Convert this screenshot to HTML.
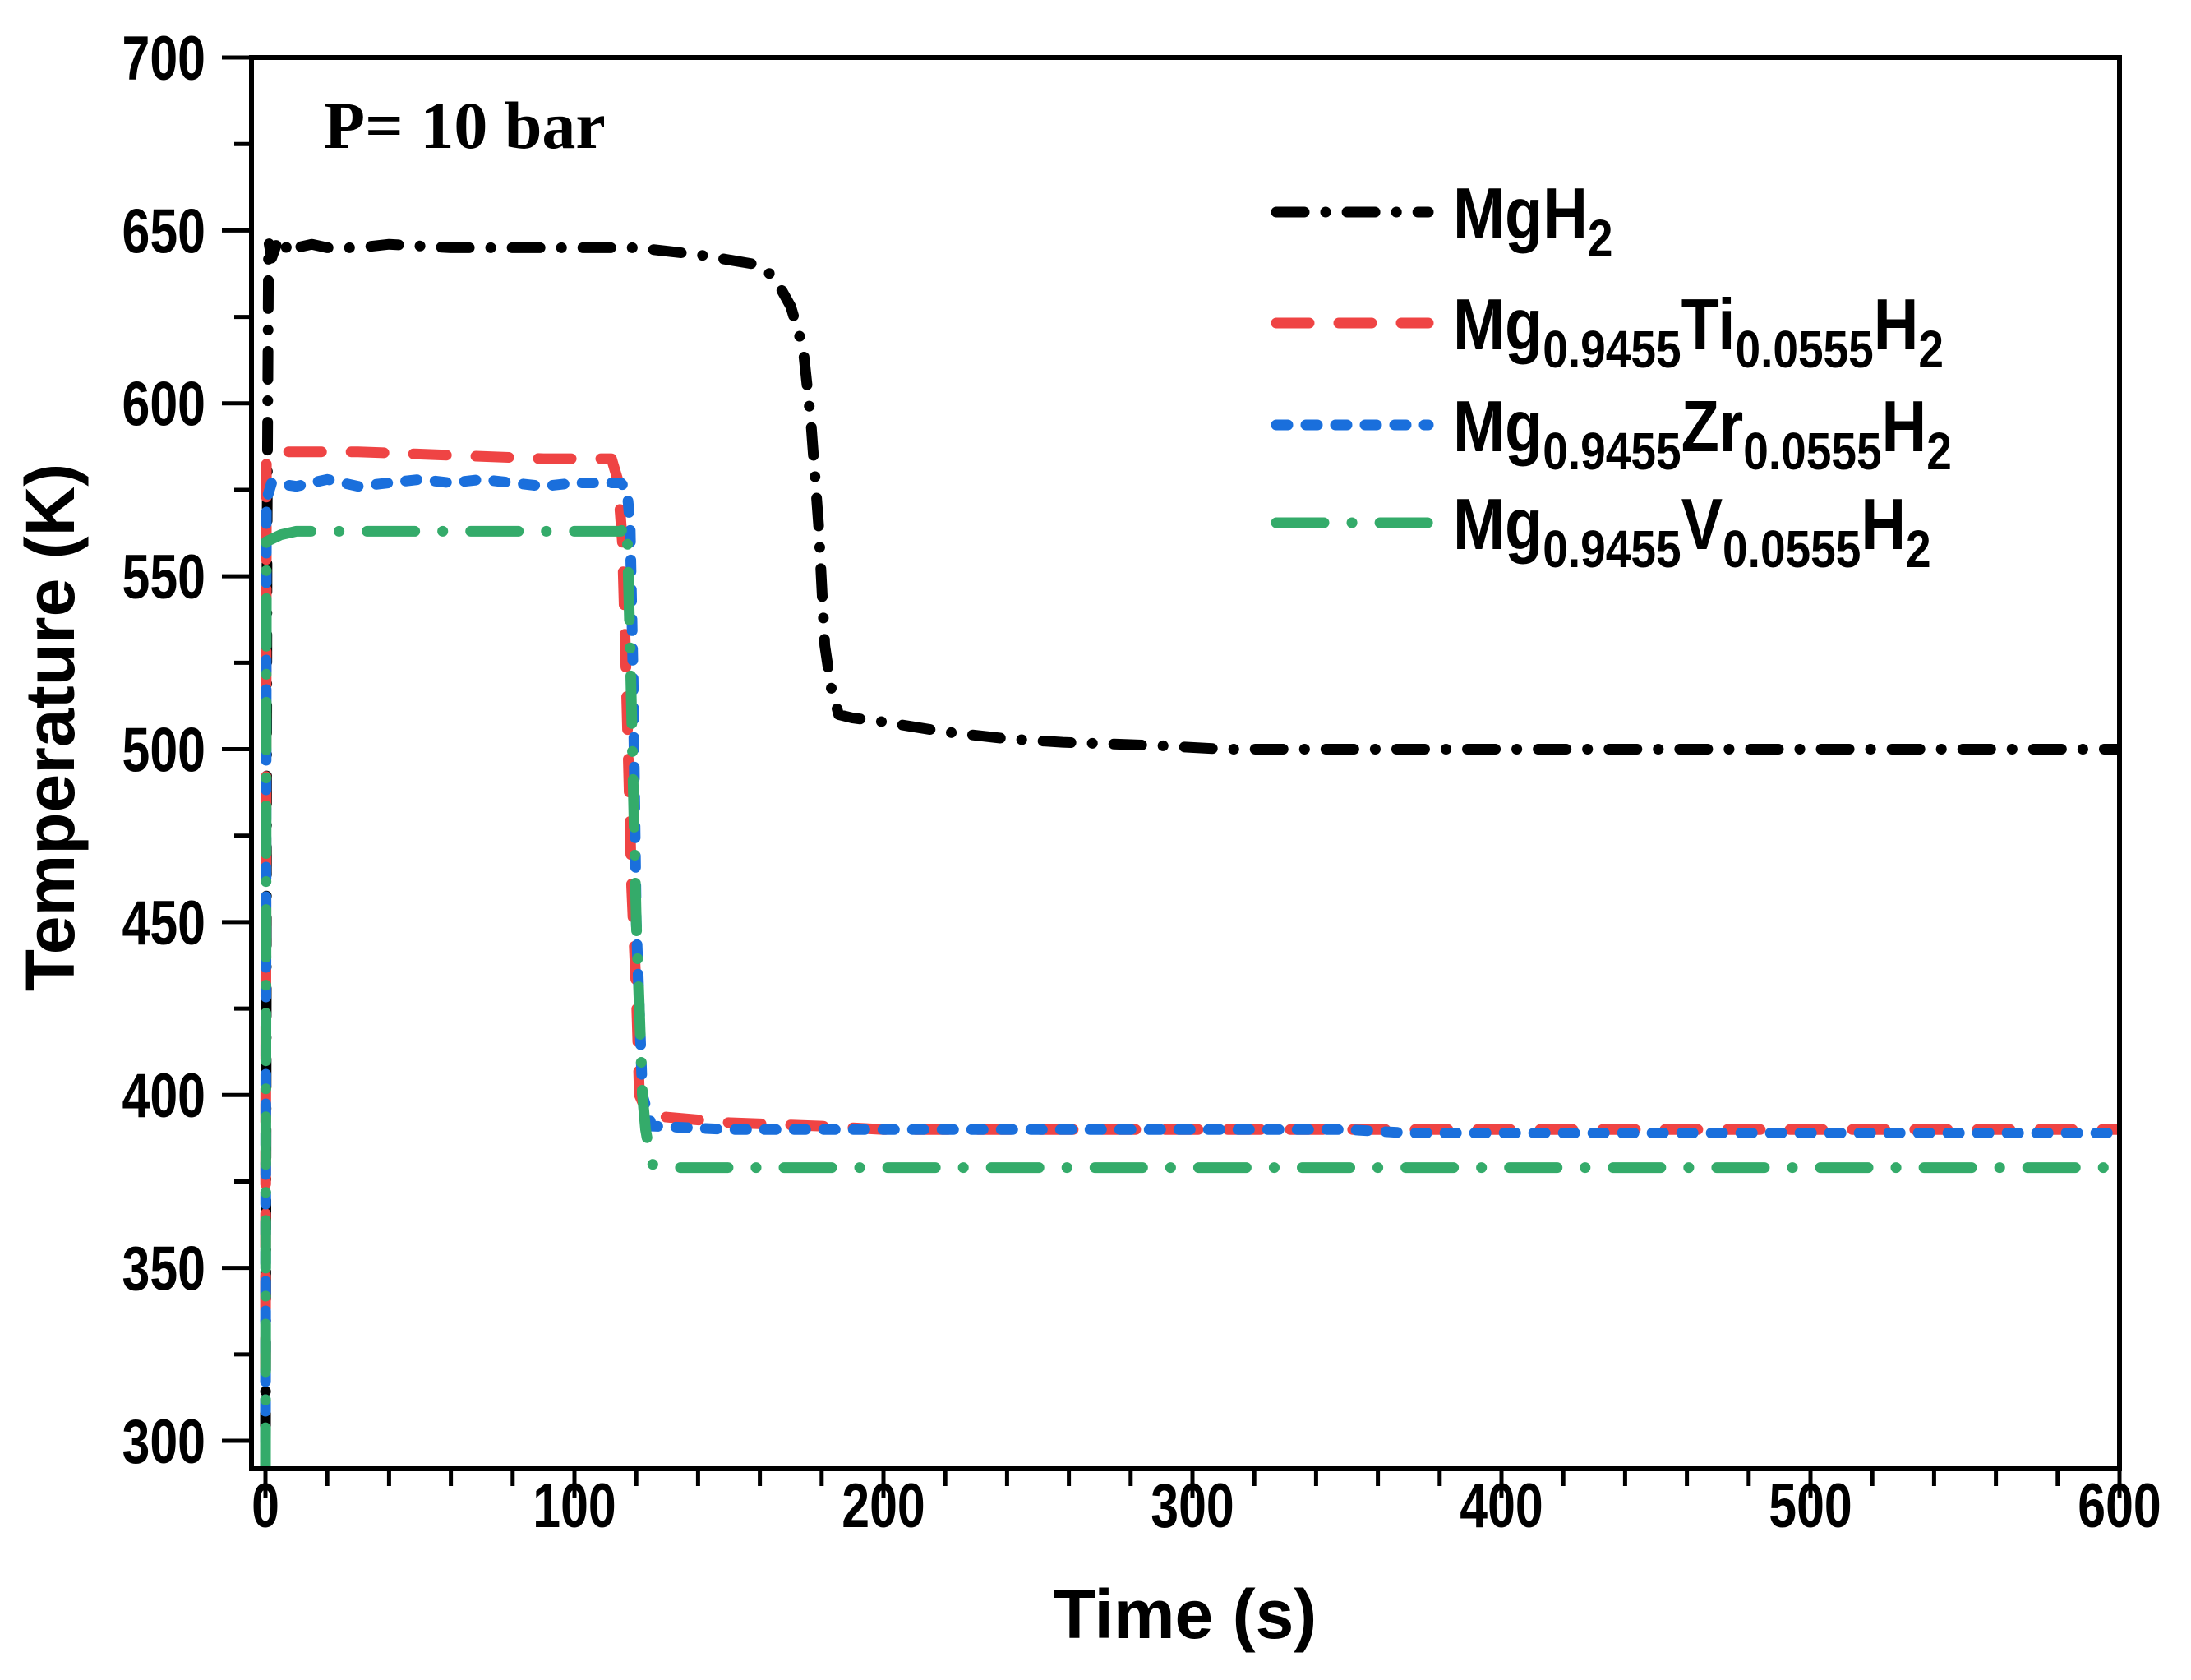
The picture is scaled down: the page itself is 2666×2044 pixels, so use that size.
<!DOCTYPE html>
<html><head><meta charset="utf-8">
<style>
html,body{margin:0;padding:0;background:#fff;}
svg{display:block;}
text{font-family:"Liberation Sans",Arial,sans-serif;font-weight:bold;fill:#000;}
</style></head>
<body>
<svg id="chart" width="2666" height="2044" viewBox="0 0 2666 2044" xmlns="http://www.w3.org/2000/svg">
<g id="plot"></g>
<g id="axes"></g>
<text x="394" y="180" style="font-family:'Liberation Serif',serif;font-size:82px;font-weight:bold">P= 10 bar</text>
<text x="1442" y="1993" text-anchor="middle" style="font-size:84px">Time (s)</text>
<text transform="translate(90,885) rotate(-90)" text-anchor="middle" style="font-size:84px">Temperature (K)</text>
<g id="legend"></g>
</svg>
<script>
const xTicks=[0,100,200,300,400,500,600];
const yTicks=[300,350,400,450,500,550,600,650,700];
const seriesNames=["MgH2","Mg0.9455Ti0.0555H2","Mg0.9455Zr0.0555H2","Mg0.9455V0.0555H2"];
const mgT=[0,0.5,1,2,4,6,8,10,15,20,30,40,60,90,120,140,160,165,170,174,176.5,179,181,183,185.5,190,199,220,240,258,290,310,400,500,600];
const mgV=[300,560,647,642,647,644,647,645,646,645,645,646,645,645,645,643,640,636,628,616,595,565,530,518,510,509,508,505,503,502,501,500,500,500,500];
const tiT=[0,0.3,1,5,30,60,90,112,114,115.5,116.7,118.5,120,121,123,125,150,180,200,300,400,500,600];
const tiV=[320,584,584,586,586,585,584,584,578,560,522,460,430,400,396,394,392,391,390,390,390,390,390];
const zrT=[0,0.3,2,10,20,30,40,50,60,70,80,90,100,110,115,117,118,119,120,122,125,150,200,300,350,370,400,500,600];
const zrV=[300,572,577,576,578,576,577,578,577,578,577,576,577,577,577,575,565,520,450,400,391,390,390,390,390,389,389,389,389];
const vT=[0,0.3,5,10,30,60,90,115,117,118,120,122,123,125,130,200,300,400,500,600];
const vV=[290,560,562,563,563,563,563,563,565,530,450,400,390,380,379,379,379,379,379,379];

const X0=323,X1=2579,Y0=1753,Y1=70;
const xs=t=>X0+(t-0)*(X1-X0)/600;
const ys=v=>Y0-(v-300)*(Y0-Y1)/400;
const NS="http://www.w3.org/2000/svg";
function mk(tag,attrs,parent){const e=document.createElementNS(NS,tag);for(const k in attrs)e.setAttribute(k,attrs[k]);parent.appendChild(e);return e;}
const plot=document.getElementById('plot'),axes=document.getElementById('axes'),legend=document.getElementById('legend');

const defs=mk('defs',{},plot);
const cp=mk('clipPath',{id:'clip'},defs);
mk('rect',{x:306,y:70,width:2273,height:1717},cp);

const styles=[
 {color:"#000000",dash:"34 26 0.1 26",w:13},
 {color:"#ef4444",dash:"40 36",w:13},
 {color:"#1a6fdc",dash:"14 22",w:13},
 {color:"#34ab6a",dash:"58 34 0.1 34",w:13}
];
const data=[[mgT,mgV],[tiT,tiV],[zrT,zrV],[vT,vV]];
[0,1,2,3].forEach(i=>{
 const [T,V]=data[i];
 let d='';
 for(let k=0;k<T.length;k++){d+=(k?'L':'M')+xs(T[k]).toFixed(1)+' '+ys(V[k]).toFixed(1);}
 const p=mk('path',{d:d,fill:'none',stroke:styles[i].color,'stroke-width':styles[i].w,'stroke-dasharray':styles[i].dash,'stroke-linecap':'round','stroke-linejoin':'round','clip-path':'url(#clip)'},plot);
 
 
});

const fr=mk('rect',{x:306,y:70,width:2273,height:1717,fill:'none',stroke:'#000','stroke-width':6},axes);



for(let t=0;t<=600;t+=20){
 const major=t%100===0;
 const tk=mk('line',{x1:xs(t),x2:xs(t),y1:1787,y2:major?1823:1808,stroke:'#000','stroke-width':5},axes);
 
 
}
xTicks.forEach(t=>{
 const x=xs(t);
 const tx=mk('text',{x:x,y:1858,'text-anchor':'middle','font-size':'76',transform:`translate(${x},0) scale(0.8,1) translate(${-x},0)`},axes);
 tx.textContent=t;
 
 
});
for(let v=300;v<=700;v+=25){
 const major=v%50===0;
 const tk=mk('line',{x1:306,x2:major?270:285,y1:ys(v),y2:ys(v),stroke:'#000','stroke-width':5},axes);
 
 
}
yTicks.forEach(v=>{
 const tx=mk('text',{x:250,y:ys(v)+27,'text-anchor':'end','font-size':'76',transform:'translate(250,0) scale(0.8,1) translate(-250,0)'},axes);
 tx.textContent=v;
 
 
});

const legY=[258,393,517,636];
const labels=[
 [["MgH",0],["2",1]],
 [["Mg",0],["0.9455",1],["Ti",0],["0.0555",1],["H",0],["2",1]],
 [["Mg",0],["0.9455",1],["Zr",0],["0.0555",1],["H",0],["2",1]],
 [["Mg",0],["0.9455",1],["V",0],["0.0555",1],["H",0],["2",1]]
];
labels.forEach((lab,i)=>{
 const g=mk('g',{},legend);
 
 
 mk('line',{x1:1553,x2:1738,y1:legY[i],y2:legY[i],stroke:styles[i].color,'stroke-width':13,'stroke-dasharray':styles[i].dash,'stroke-linecap':'round'},g);
 const t=mk('text',{x:1768,y:legY[i]+32,'font-size':'88',transform:'translate(1768,0) scale(0.86,1) translate(-1768,0)'},g);
 lab.forEach(([s,sub])=>{
  const ts=mk('tspan',{},t);
  if(sub){ts.setAttribute('font-size','64');ts.setAttribute('dy','22');}
  else{ts.setAttribute('dy', t.childNodes.length>1?'-22':'0');}
  ts.textContent=s;
 });
});
</script>
</body></html>
